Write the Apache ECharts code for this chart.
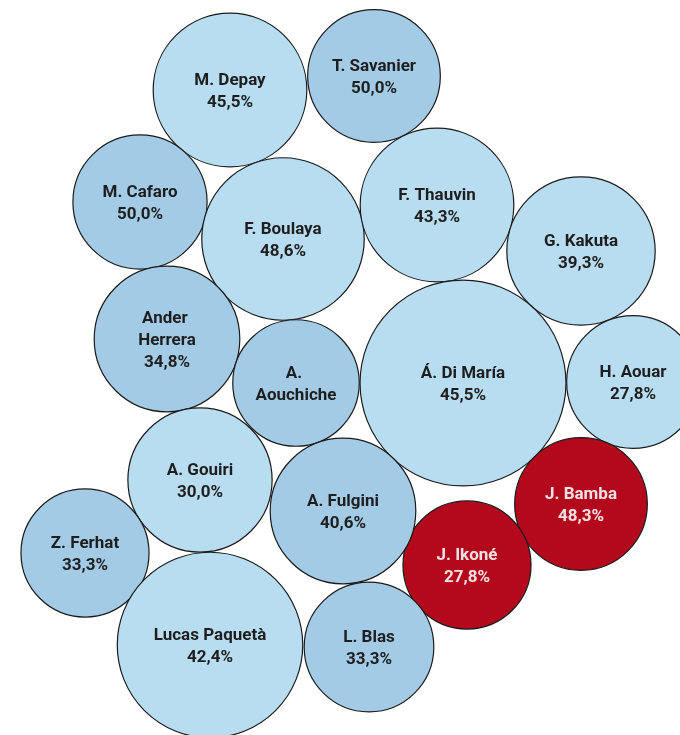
<!DOCTYPE html>
<html>
<head>
<meta charset="utf-8">
<script src="https://cdn.jsdelivr.net/npm/echarts@6/dist/echarts.min.js"></script>
<style>
  html, body { margin: 0; padding: 0; background: #ffffff; }
  #chart { width: 680px; height: 735px; }
</style>
</head>
<body>
<div id="chart"></div>
<script>
// Players, conversion rate (%) and volume (bubble area)
const players = ['M. Depay', 'T. Savanier', 'M. Cafaro', 'F. Boulaya', 'F. Thauvin', 'G. Kakuta',
  'Ander Herrera', 'A. Aouchiche', 'Á. Di María', 'H. Aouar', 'J. Bamba', 'J. Ikoné',
  'A. Gouiri', 'A. Fulgini', 'Z. Ferhat', 'Lucas Paquetà', 'L. Blas'];
const rates = [45.5, 50.0, 50.0, 48.6, 43.3, 39.3, 34.8, null, 45.5, 27.8, 48.3, 27.8,
  30.0, 40.6, 33.3, 42.4, 33.3];
const volume = [59, 44, 45, 66, 59, 55, 53, 40, 106, 44, 44, 41, 52, 53, 41, 86, 42];
// Colour group: 0 = light, 1 = mid, 2 = highlighted
const group = [0, 1, 1, 0, 0, 0, 1, 1, 0, 0, 2, 2, 0, 1, 1, 0, 1];
// Packed layout coordinates (layout units)
const packX = [230, 374, 140, 283, 437, 581, 167, 296, 463, 633, 581, 467, 200, 343, 85, 210, 369];
const packY = [90, 76, 202, 239, 205, 251, 339, 383, 383, 382, 504, 565, 480, 511, 553, 645, 647];

const fills = ['#b8dcf0', '#a4cbe6', '#b4091d'];
const inks = ['#1e1e1e', '#1e1e1e', '#f2e2e4'];
const radiusOf = v => 10 * Math.sqrt(v);
const fmtRate = r => r.toFixed(1).replace('.', ',') + '%';

const data = players.map((name, i) => {
  const d = 2 * radiusOf(volume[i]);
  return {
    name: name,
    value: [packX[i], packY[i], volume[i], rates[i]],
    symbolSize: d,
    itemStyle: { color: fills[group[i]] },
    label: {
      color: inks[group[i]],
      width: d * 0.7,
      overflow: 'break',
      formatter: rates[i] == null ? '{b}' : '{b}\n' + fmtRate(rates[i])
    }
  };
});

const chart = echarts.init(document.getElementById('chart'), null, { renderer: 'canvas' });
chart.setOption({
  animation: false,
  grid: { left: 0, right: 0, top: 0, bottom: 0 },
  xAxis: { type: 'value', min: 0, max: 680, show: false },
  yAxis: { type: 'value', min: 0, max: 735, inverse: true, show: false },
  series: [{
    type: 'scatter',
    symbol: 'circle',
    data: data,
    itemStyle: { borderColor: '#1a1a1a', borderWidth: 1.2, opacity: 1 },
    label: {
      show: true,
      position: 'inside',
      offset: [0, 2],
      fontFamily: 'Roboto, "DejaVu Sans", sans-serif',
      fontWeight: 'bold',
      fontSize: 17,
      lineHeight: 22,
      align: 'center'
    }
  }]
});
</script>
</body>
</html>
